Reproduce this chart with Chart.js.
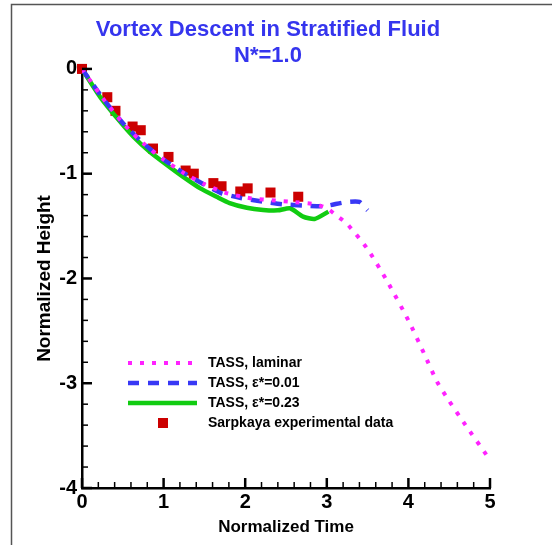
<!DOCTYPE html>
<html>
<head>
<meta charset="utf-8">
<script src="https://cdn.jsdelivr.net/npm/chart.js@4.4.0/dist/chart.umd.min.js"></script>
<style>
  html, body { margin: 0; padding: 0; background: #fff; }
  #wrap { width: 552px; height: 545px; }
</style>
</head>
<body>
<div id="wrap"><canvas id="myChart" width="552" height="545"></canvas></div>
<script>
// values
const laminarX = [0, 0.25, 0.5, 0.75, 1.0, 1.25, 1.5, 1.75, 2.06, 2.38, 2.54, 2.85, 3.0, 3.12, 3.25, 3.5, 3.75, 4.0, 4.2, 4.35, 4.5, 4.7, 4.98];
const laminarY = [0, -0.275, -0.515, -0.71, -0.865, -0.995, -1.1, -1.18, -1.234, -1.257, -1.267, -1.29, -1.33, -1.4, -1.48, -1.72, -2.04, -2.4, -2.73, -2.985, -3.17, -3.4, -3.71];

const eps01X = [0, 0.25, 0.5, 0.75, 1.0, 1.25, 1.49, 1.71, 1.96, 2.22, 2.46, 2.73, 2.97, 3.22, 3.4, 3.5];
const eps01Y = [0, -0.275, -0.515, -0.71, -0.865, -0.995, -1.1, -1.187, -1.234, -1.267, -1.292, -1.305, -1.31, -1.273, -1.27, -1.35];

const eps23X = [0, 0.22, 0.43, 0.63, 0.83, 1.04, 1.24, 1.45, 1.65, 1.81, 2.02, 2.22, 2.4, 2.55, 2.71, 2.85, 3.02];
const eps23Y = [0, -0.265, -0.47, -0.647, -0.79, -0.916, -1.03, -1.14, -1.22, -1.28, -1.325, -1.346, -1.35, -1.33, -1.41, -1.432, -1.362];

const sarpX = [0, 0.31, 0.41, 0.62, 0.72, 0.87, 1.06, 1.27, 1.37, 1.61, 1.71, 1.94, 2.03, 2.31, 2.65];
const sarpY = [0, -0.27, -0.4, -0.55, -0.585, -0.76, -0.84, -0.97, -1.0, -1.09, -1.12, -1.17, -1.14, -1.18, -1.22];

const xTicks = [0, 1, 2, 3, 4, 5];
const yTicks = [0, -1, -2, -3, -4];

const FONT = "'Liberation Sans', Arial, sans-serif";

function pts(xs, ys) {
  return xs.map((x, i) => ({x: x, y: ys[i]}));
}

const ctx = document.getElementById('myChart').getContext('2d');

// frame, inward ticks and the legend inside the plot
const extras = {
  id: 'extras',
  afterDraw(chart) {
    const c = chart.ctx;
    const xs = chart.scales.x, ys = chart.scales.y;
    const a = chart.chartArea;

    c.save();
    c.strokeStyle = '#555';
    c.lineWidth = 1.5;
    c.beginPath();
    c.moveTo(11.5, 545);
    c.lineTo(11.5, 4.5);
    c.lineTo(552, 4.5);
    c.stroke();

    c.strokeStyle = '#000';
    for (let i = 0; i <= 25; i++) {
      const v = i * 0.2;
      const px = xs.getPixelForValue(v);
      const major = i % 5 === 0;
      c.lineWidth = major ? 2.5 : 1.5;
      c.beginPath();
      c.moveTo(px, a.bottom);
      c.lineTo(px, a.bottom - (major ? 10 : 6));
      c.stroke();
    }
    for (let i = 0; i <= 20; i++) {
      const v = -i * 0.2;
      const py = ys.getPixelForValue(v);
      const major = i % 5 === 0;
      c.lineWidth = major ? 2.5 : 1.5;
      c.beginPath();
      c.moveTo(a.left, py);
      c.lineTo(a.left + (major ? 10 : 6), py);
      c.stroke();
    }

    // legend
    const lx0 = 128, lx1 = 197, tx = 208;
    const rows = [363, 383, 403, 423];
    c.font = 'bold 14px ' + FONT;
    c.textBaseline = 'middle';
    c.textAlign = 'left';
    chart.data.datasets.forEach((ds, i) => {
      const y = rows[i];
      if (ds.showLine === false) {
        c.fillStyle = ds.pointBackgroundColor;
        c.fillRect(158, y - 5, 10, 10);
      } else {
        c.strokeStyle = ds.borderColor;
        c.lineWidth = ds.borderWidth;
        c.setLineDash(ds.borderDash || []);
        c.beginPath();
        c.moveTo(lx0, y);
        c.lineTo(lx1, y);
        c.stroke();
        c.setLineDash([]);
      }
      c.fillStyle = '#000';
      c.fillText(ds.label, tx, y);
    });
    c.restore();
  }
};

const config = {
  type: 'line',
  data: {
    datasets: [
      {
        label: 'TASS, laminar',
        data: pts(laminarX, laminarY),
        borderColor: '#ff22ff',
        borderWidth: 4,
        borderDash: [4, 8],
        pointRadius: 0,
        tension: 0.2
      },
      {
        label: 'TASS, \u03b5*=0.01',
        data: pts(eps01X, eps01Y),
        borderColor: '#3838f5',
        borderWidth: 4.5,
        borderDash: [11, 9],
        pointRadius: 0,
        tension: 0.2
      },
      {
        label: 'TASS, \u03b5*=0.23',
        data: pts(eps23X, eps23Y),
        borderColor: '#11cc11',
        borderWidth: 4.5,
        pointRadius: 0,
        tension: 0.2
      },
      {
        label: 'Sarpkaya experimental data',
        data: pts(sarpX, sarpY),
        showLine: false,
        clip: false,
        pointStyle: 'rect',
        pointRadius: 7.1,
        pointBorderWidth: 0,
        pointBackgroundColor: '#cc0000',
        pointBorderColor: '#cc0000'
      }
    ]
  },
  options: {
    responsive: false,
    animation: false,
    layout: { padding: { left: 0, right: 16, top: 0, bottom: 0 } },
    plugins: {
      legend: { display: false },
      tooltip: { enabled: false },
      title: {
        display: true,
        text: ['Vortex Descent in Stratified Fluid', 'N*=1.0'],
        color: '#3535ee',
        font: { family: FONT, size: 22, weight: 'bold', lineHeight: 1.18 },
        padding: { top: 17, bottom: 0 }
      }
    },
    scales: {
      x: {
        type: 'linear',
        min: 0,
        max: 5,
        afterBuildTicks: s => { s.ticks = xTicks.map(v => ({value: v})); },
        afterFit: s => { s.height = 57; },
        grid: { display: false, drawTicks: false },
        border: { display: true, color: '#000', width: 2.5 },
        ticks: {
          color: '#000',
          padding: 2,
          font: { family: FONT, size: 20, weight: 'bold' }
        },
        title: {
          display: true,
          text: 'Normalized Time',
          color: '#000',
          font: { family: FONT, size: 17, weight: 'bold', lineHeight: 1.2 },
          padding: { top: 0, bottom: 7 }
        }
      },
      y: {
        type: 'linear',
        min: -4,
        max: 0,
        afterBuildTicks: s => { s.ticks = yTicks.map(v => ({value: v})); },
        afterFit: s => { s.width = 82; },
        grid: { display: false, drawTicks: false },
        border: { display: true, color: '#000', width: 2.5 },
        ticks: {
          color: '#000',
          padding: 5,
          font: { family: FONT, size: 20, weight: 'bold' }
        },
        title: {
          display: true,
          text: 'Normalized Height',
          color: '#000',
          font: { family: FONT, size: 19, weight: 'bold', lineHeight: 1.2 },
          padding: { top: 33, bottom: 0 }
        }
      },
      yRight: {
        type: 'linear',
        position: 'right',
        afterFit: s => { s.width = 46; },
        grid: { display: false, drawTicks: false },
        border: { display: false },
        ticks: { display: false }
      }
    }
  },
  plugins: [extras]
};

const myChart = new Chart(ctx, config);
</script>
</body>
</html>
